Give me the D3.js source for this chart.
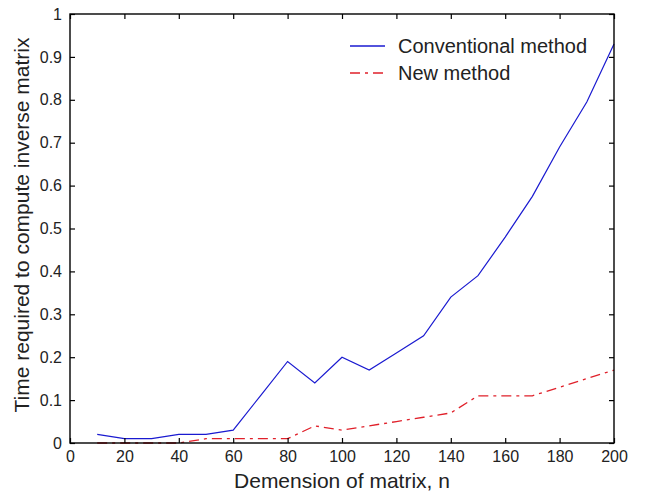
<!DOCTYPE html>
<html lang="en">
<meta charset="utf-8">
<style>
  body { margin: 0; background: #fff; }
  text { font-family: 'Liberation Sans', Arial, sans-serif; fill: #222; }
</style>
<script src="https://d3js.org/d3.v7.min.js"></script>
<body>
<div id="chart"></div>
<script>
// data
var dims = [10, 20, 30, 40, 50, 60, 70, 80, 90, 100, 110, 120, 130, 140, 150, 160, 170, 180, 190, 200];
var conventional = [0.02, 0.01, 0.01, 0.02, 0.02, 0.03, 0.11, 0.19, 0.14, 0.20, 0.17, 0.21, 0.25, 0.34, 0.39, 0.48, 0.575, 0.69, 0.795, 0.93];
var newMethod = [0, 0, 0, 0, 0.01, 0.01, 0.01, 0.01, 0.04, 0.03, 0.04, 0.05, 0.06, 0.07, 0.11, 0.11, 0.11, 0.13, 0.15, 0.17];
var xTicks = [0, 20, 40, 60, 80, 100, 120, 140, 160, 180, 200];
var yTicks = [0, 0.1, 0.2, 0.3, 0.4, 0.5, 0.6, 0.7, 0.8, 0.9, 1];

var W = 646, H = 493;
var pLeft = 70, pRight = 614, pTop = 14, pBottom = 443;
var dashNew = "10,5,3,5";

var svg = d3.select("#chart").append("svg")
  .attr("width", W).attr("height", H);

var x = d3.scaleLinear().domain([0, 200]).range([pLeft, pRight]);
var y = d3.scaleLinear().domain([0, 1]).range([pBottom, pTop]);

// lines
var line = d3.line().x((d, i) => x(dims[i])).y(d => y(d));

svg.append("path").datum(conventional)
  .attr("d", line).attr("fill", "none")
  .attr("stroke", "#1a1ad0").attr("stroke-width", 1.2);

svg.append("path").datum(newMethod)
  .attr("d", line).attr("fill", "none")
  .attr("stroke", "#e0202a").attr("stroke-width", 1.3)
  .attr("stroke-dasharray", dashNew);

// box
svg.append("rect")
  .attr("x", pLeft).attr("y", pTop)
  .attr("width", pRight - pLeft).attr("height", pBottom - pTop)
  .attr("fill", "none").attr("stroke", "#000").attr("stroke-width", 1.4);

// axes with inward ticks
svg.append("g")
  .attr("transform", "translate(0," + pBottom + ")")
  .call(d3.axisBottom(x).tickValues(xTicks).tickSize(-5).tickPadding(8))
  .call(g => g.select(".domain").remove())
  .selectAll("text").style("font-size", "16px").attr("fill", "#222");

svg.append("g")
  .attr("transform", "translate(0," + pTop + ")")
  .call(d3.axisTop(x).tickValues(xTicks).tickSize(-5).tickFormat(""))
  .call(g => g.select(".domain").remove());

svg.append("g")
  .attr("transform", "translate(" + pLeft + ",0)")
  .call(d3.axisLeft(y).tickValues(yTicks).tickSize(-5).tickPadding(8).tickFormat(d3.format("~g")))
  .call(g => g.select(".domain").remove())
  .selectAll("text").style("font-size", "16px").attr("fill", "#222");

svg.append("g")
  .attr("transform", "translate(" + pRight + ",0)")
  .call(d3.axisRight(y).tickValues(yTicks).tickSize(-5).tickFormat(""))
  .call(g => g.select(".domain").remove());

svg.selectAll(".tick line").attr("stroke", "#000").attr("stroke-width", 1.2);

// axis titles
svg.append("text")
  .attr("x", (pLeft + pRight) / 2).attr("y", 488)
  .attr("text-anchor", "middle")
  .style("font-size", "21px")
  .text("Demension of matrix, n");

svg.append("text")
  .attr("transform", "translate(29,225) rotate(-90)")
  .attr("text-anchor", "middle")
  .style("font-size", "21px")
  .text("Time required to compute inverse matrix");

// legend
var legend = [
  {name: "Conventional method", color: "#1a1ad0", dash: null},
  {name: "New method", color: "#e0202a", dash: dashNew}
];
var lg = svg.append("g").attr("transform", "translate(350,46)");
legend.forEach(function(d, i) {
  lg.append("line")
    .attr("x1", 0).attr("x2", 35).attr("y1", i * 27).attr("y2", i * 27)
    .attr("stroke", d.color).attr("stroke-width", 1.3)
    .attr("stroke-dasharray", d.dash);
  lg.append("text")
    .attr("x", 48).attr("y", i * 27 + 7)
    .style("font-size", "20px")
    .text(d.name);
});
</script>
</body>
</html>
